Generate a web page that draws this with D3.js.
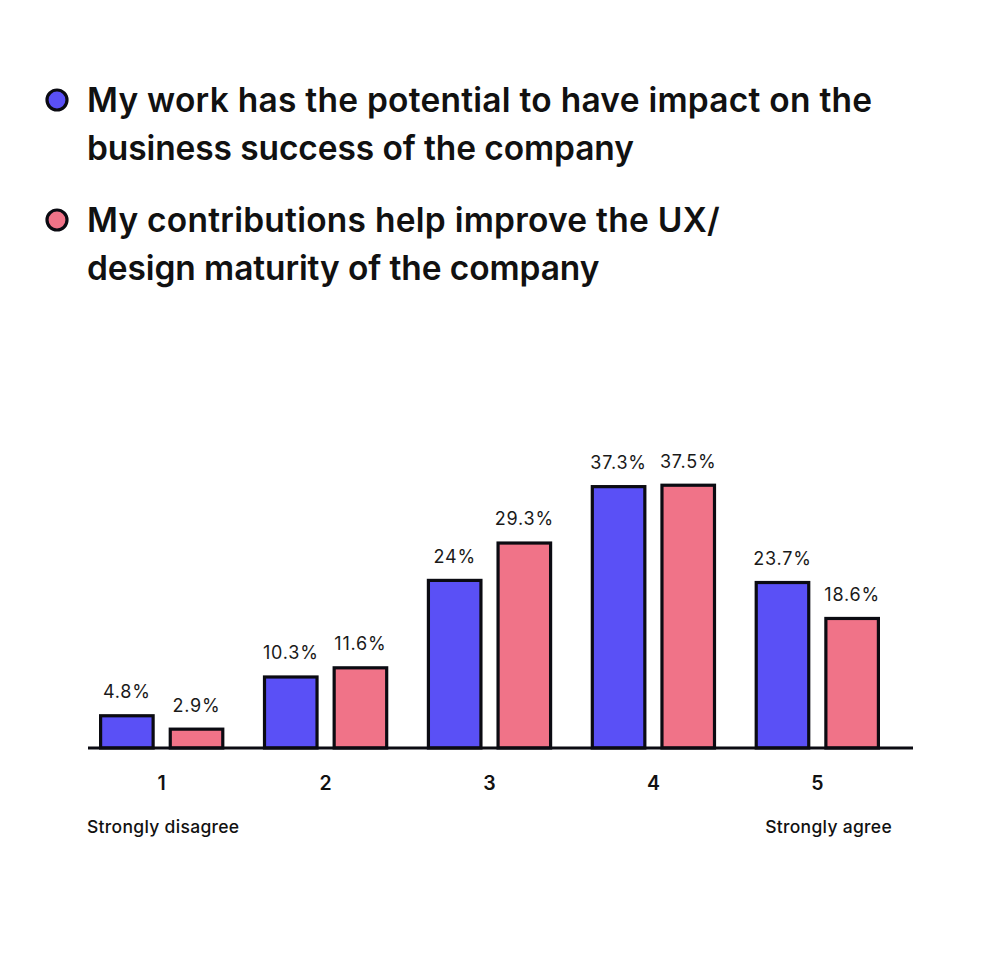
<!DOCTYPE html>
<html>
<head>
<meta charset="utf-8">
<script src="https://cdn.jsdelivr.net/npm/d3@7"></script>
<style>
  html, body { margin: 0; padding: 0; background: #ffffff; }
  svg { display: block; }
</style>
</head>
<body>
<script>
// ---- Data ----
const categories = ["1", "2", "3", "4", "5"];
const seriesNames = [
  ["My work has the potential to have impact on the", "business success of the company"],
  ["My contributions help improve the UX/", "design maturity of the company"]
];
const impactValues = [4.8, 10.3, 24, 37.3, 23.7];
const maturityValues = [2.9, 11.6, 29.3, 37.5, 18.6];
const valueLabels = [
  ["4.8%", "10.3%", "24%", "37.3%", "23.7%"],
  ["2.9%", "11.6%", "29.3%", "37.5%", "18.6%"]
];
const endLabels = ["Strongly disagree", "Strongly agree"];
const colors = ["#5a50f6", "#f07388"];

const W = 1000, H = 979;
const svg = d3.select("body").append("svg").attr("width", W).attr("height", H);
const FONT = "Inter, 'Noto Sans', sans-serif";
const ink = "#0b0b12";

// ---- Legend ----
const legendTops = [112, 232];
const lineGap = 48;
seriesNames.forEach((lines, i) => {
  svg.append("circle")
    .attr("cx", 57).attr("cy", legendTops[i] - 12).attr("r", 10)
    .attr("fill", colors[i]).attr("stroke", ink).attr("stroke-width", 3.2);
  lines.forEach((t, j) => {
    svg.append("text")
      .attr("x", 87).attr("y", legendTops[i] + j * lineGap)
      .attr("font-family", FONT).attr("font-size", 33.5).attr("font-weight", 600)
      .attr("fill", "#111").attr("letter-spacing", j === 0 ? "0.25" : "-0.1")
      .text(t);
  });
});

// ---- Chart ----
const baseline = 748;
const x0 = d3.scaleBand().domain(categories).range([99, 880]).paddingInner(0.235).paddingOuter(0);
const x1 = d3.scaleBand().domain([0, 1]).range([0, x0.bandwidth()]).paddingInner(0.2);
const y = d3.scaleLinear().domain([0, 40]).range([baseline, baseline - 282]);

const series = [impactValues, maturityValues];
const sw = 3.2;

series.forEach((vals, s) => {
  const g = svg.append("g");
  g.selectAll("rect").data(vals).join("rect")
    .attr("x", (d, i) => x0(categories[i]) + x1(s) + sw / 2)
    .attr("width", x1.bandwidth() - sw)
    .attr("y", d => y(d) + sw / 2)
    .attr("height", d => baseline - y(d) - sw / 2)
    .attr("fill", colors[s]).attr("stroke", ink).attr("stroke-width", sw);
  g.selectAll("text").data(vals).join("text")
    .attr("x", (d, i) => x0(categories[i]) + x1(s) + x1.bandwidth() / 2)
    .attr("y", d => y(d) - 16)
    .attr("text-anchor", "middle")
    .attr("font-family", FONT).attr("font-size", 18).attr("font-weight", 400)
    .attr("letter-spacing", "0.8")
    .attr("fill", "#1a1a1a")
    .text((d, i) => valueLabels[s][i]);
});

// baseline axis line
svg.append("line")
  .attr("x1", 88).attr("x2", 913).attr("y1", baseline).attr("y2", baseline)
  .attr("stroke", ink).attr("stroke-width", 3.2);

// category ticks via axis
const axis = d3.axisBottom(x0).tickSize(0).tickPadding(0);
const ag = svg.append("g").attr("transform", `translate(0,${baseline})`).call(axis);
ag.select(".domain").remove();
ag.selectAll("text")
  .attr("y", 42).attr("dy", 0)
  .attr("font-family", FONT).attr("font-size", 19.5).attr("font-weight", 600)
  .attr("fill", "#111");

// end labels
svg.append("text").attr("x", 87).attr("y", 833)
  .attr("font-family", FONT).attr("font-size", 17.5).attr("font-weight", 500)
  .attr("letter-spacing", "0.3")
  .attr("fill", "#111").text(endLabels[0]);
svg.append("text").attr("x", 892).attr("y", 833).attr("text-anchor", "end")
  .attr("font-family", FONT).attr("font-size", 17.5).attr("font-weight", 500)
  .attr("letter-spacing", "0.3")
  .attr("fill", "#111").text(endLabels[1]);
</script>
</body>
</html>
